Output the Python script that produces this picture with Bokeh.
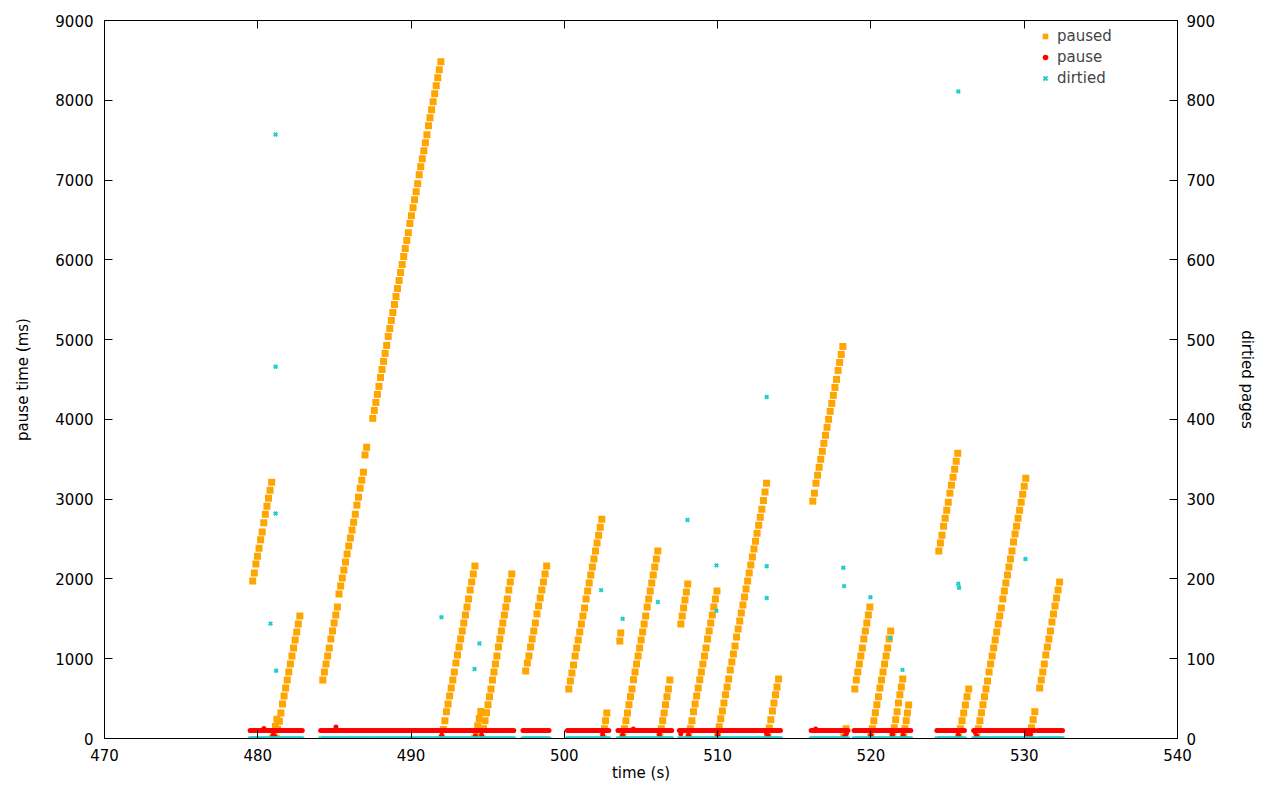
import numpy as np
from bokeh.plotting import figure
from bokeh.models import Range1d, LinearAxis, Legend, LegendItem, FixedTicker
from bokeh.embed import file_html
from bokeh.resources import INLINE

# ---------------- data ----------------
x_ticks = [470, 480, 490, 500, 510, 520, 530, 540]
y_ticks = [0, 1000, 2000, 3000, 4000, 5000, 6000, 7000, 8000, 9000]
y2_ticks = [0, 100, 200, 300, 400, 500, 600, 700, 800, 900]

# "paused": cumulative pause time ramps (ms); start time (s), sample interval (s), values
ramp_t0 = [479.67, 480.95, 481.2, 484.24, 487.50, 492.0, 494.15, 494.63, 497.48, 500.29,
           502.53, 503.62, 503.82, 506.23, 507.60, 508.12, 510.0, 513.27, 516.21, 518.23,
           518.95, 519.99, 521.43, 522.14, 524.43, 525.73, 526.91, 530.36, 531.01]
ramp_dt = [0.103, 0.1, 0.103, 0.106, 0.101, 0.103, 0.1, 0.097, 0.105, 0.1025,
           0.08, 0.06, 0.099, 0.093, 0.09, 0.102, 0.103, 0.101, 0.103, 0.15,
           0.098, 0.1, 0.092, 0.08, 0.103, 0.108, 0.0997, 0.11, 0.1]
ramp_values = [
    [1973, 2073, 2186, 2286, 2386, 2490, 2590, 2703, 2812, 2912, 3012, 3112, 3212],
    [0, 80, 150, 240],
    [0, 113, 217, 321, 434, 534, 634, 734, 834, 934, 1034, 1134, 1234, 1334, 1434, 1535],
    [734, 835, 935, 1035, 1135, 1248, 1348, 1448, 1548, 1648, 1811, 1912, 2012, 2112, 2212,
     2312, 2412, 2512, 2612, 2712, 2812, 2925, 3025, 3138, 3238, 3338, 3554, 3651],
    [4013, 4113, 4213, 4314, 4414, 4526, 4626, 4727, 4827, 4927, 5040, 5140, 5240, 5340, 5440,
     5540, 5641, 5741, 5841, 5941, 6041, 6141, 6241, 6341, 6454, 6554, 6654, 6754, 6854, 6955,
     7067, 7168, 7268, 7368, 7468, 7568, 7681, 7781, 7881, 7981, 8081, 8181, 8281, 8382, 8482],
    [0, 113, 221, 334, 434, 534, 634, 734, 835, 947, 1048, 1148, 1248, 1348, 1448, 1548, 1648,
     1748, 1861, 1961, 2061, 2161],
    [0, 80, 160, 250, 340],
    [0, 121, 221, 322, 422, 522, 622, 734, 835, 935, 1035, 1148, 1248, 1348, 1448, 1548, 1648,
     1748, 1861, 1961, 2061],
    [847, 947, 1035, 1147, 1247, 1348, 1448, 1560, 1660, 1761, 1861, 1961, 2061, 2161],
    [622, 722, 822, 922, 1035, 1135, 1235, 1335, 1435, 1535, 1635, 1748, 1848, 1948, 2048, 2149,
     2249, 2349, 2449, 2549, 2649, 2749],
    [0, 121, 221, 321],
    [1222, 1322],
    [21, 121, 221, 321, 422, 522, 622, 735, 835, 935, 1035, 1135, 1235, 1335, 1435, 1535, 1648,
     1748, 1848, 1948, 2048, 2149, 2249, 2349],
    [21, 121, 221, 321, 422, 522, 622, 734],
    [1435, 1535, 1635, 1736, 1836, 1936],
    [21, 121, 221, 334, 434, 534, 634, 735, 835, 935, 1035, 1135, 1248, 1348, 1448, 1548, 1648,
     1748, 1848],
    [46, 146, 246, 346, 446, 547, 647, 747, 859, 960, 1060, 1160, 1272, 1373, 1473, 1573, 1673,
     1773, 1873, 1973, 2073, 2174, 2274, 2374, 2474, 2574, 2674, 2774, 2874, 2983, 3090, 3200],
    [46, 133, 234, 346, 446, 547, 647, 747],
    [2975, 3075, 3200, 3300, 3400, 3500, 3600, 3700, 3801, 3901, 4001, 4101, 4201, 4301, 4401,
     4501, 4614, 4714, 4814, 4914],
    [21, 121],
    [622, 734, 834, 935, 1035, 1135, 1247, 1348, 1448, 1548, 1648],
    [21, 121, 221, 322, 422, 522, 634, 734, 834, 935, 1035, 1135, 1247, 1348],
    [34, 134, 234, 334, 446, 547, 647, 747],
    [21, 121, 221, 321, 421],
    [2349, 2449, 2549, 2662, 2762, 2862, 2962, 3075, 3175, 3275, 3375, 3475, 3575],
    [21, 121, 221, 321, 421, 522, 622],
    [21, 121, 221, 322, 422, 522, 622, 722, 835, 935, 1035, 1135, 1235, 1335, 1435, 1535, 1635,
     1749, 1849, 1949, 2049, 2149, 2249, 2349, 2462, 2562, 2662, 2762, 2862, 2962, 3062, 3162, 3262],
    [34, 134, 234, 334],
    [634, 734, 834, 935, 1047, 1147, 1247, 1348, 1460, 1561, 1661, 1761, 1861, 1961],
]

# sampling segments where "pause" (ms) and "dirtied" (pages) were recorded
seg_start = [479.5, 484.1, 487.4, 497.3, 500.2, 503.5, 507.5, 516.1, 518.9, 524.3, 526.7, 530.9]
seg_end = [482.9, 487.3, 496.7, 499.0, 502.9, 507.0, 514.1, 518.5, 522.6, 526.1, 530.7, 532.5]
sample_step = 0.1
pause_level = 100
dirtied_level = 0

pause_extra_t = [480.4, 481.0, 481.1, 485.1, 492.0, 494.2, 494.6, 502.5, 503.8, 504.5, 506.2,
                 507.6, 508.1, 510.0, 513.2, 513.3, 516.4, 518.3, 518.4, 520.0, 521.4, 522.1,
                 525.7, 526.8, 526.9, 530.2, 530.4]
pause_extra_v = [125, 40, 30, 145, 40, 30, 40, 50, 40, 120, 50, 60, 40, 40, 60, 30, 120, 30, 60,
                 40, 50, 40, 40, 80, 30, 50, 50]

dirtied_spike_t = [481.16, 481.16, 481.16, 480.83, 481.2, 491.98, 494.14, 494.46, 502.4, 503.8,
                   506.1, 508.03, 509.92, 509.92, 513.2, 513.2, 513.2, 518.2, 518.25, 519.97,
                   521.27, 522.06, 525.7, 525.7, 525.75, 530.08]
dirtied_spike_v = [757, 466, 282, 144, 85, 152, 87, 119, 186, 150, 171, 274, 217, 160, 428, 216,
                   176, 214, 191, 177, 126, 86, 811, 194, 189, 225]

# ---------------- build series ----------------
paused_t, paused_v = [], []
for t0, dt, vals in zip(ramp_t0, ramp_dt, ramp_values):
    for i, v in enumerate(vals):
        paused_t.append(t0 + dt * i)
        paused_v.append(v)

base_t = np.concatenate([np.arange(s, e + 1e-6, sample_step) for s, e in zip(seg_start, seg_end)])
pause_t = list(base_t) + pause_extra_t
pause_v = [pause_level] * len(base_t) + pause_extra_v
dirt_t = list(base_t) + dirtied_spike_t
dirt_v = [dirtied_level] * len(base_t) + dirtied_spike_v

FONT = "DejaVu Sans"

p = figure(width=1264, height=784, x_range=Range1d(470, 540), y_range=Range1d(0, 9000),
           output_backend="svg", toolbar_location=None,
           min_border_left=104, min_border_right=87, min_border_top=20, min_border_bottom=45)
p.extra_y_ranges = {"pages": Range1d(0, 900)}
p.xgrid.visible = False
p.ygrid.visible = False
p.outline_line_color = "black"
p.outline_line_width = 1
p.background_fill_color = "white"

r_paused = p.scatter(paused_t, paused_v, marker="square", size=7, fill_color="#ffa500",
                     line_color="#ffa500", line_width=0)
r_pause = p.scatter(pause_t, pause_v, marker="circle", size=5, fill_color="#ff0000",
                    line_color="#ff0000", line_width=0)
r_dirt = p.scatter(dirt_t, dirt_v, marker="x", size=5, line_color="#1fcccc", line_width=2,
                   y_range_name="pages")


def style_axis(ax, ticks):
    ax.ticker = FixedTicker(ticks=ticks)
    ax.major_tick_in = 8
    ax.major_tick_out = 0
    ax.minor_tick_in = 0
    ax.minor_tick_out = 0
    ax.minor_tick_line_color = None
    ax.axis_line_color = "black"
    ax.major_tick_line_color = "black"
    ax.major_label_text_font = FONT
    ax.major_label_text_font_size = "15px"
    ax.major_label_text_color = "black"
    ax.axis_label_text_font = FONT
    ax.axis_label_text_font_size = "15px"
    ax.axis_label_text_font_style = "normal"
    ax.axis_label_text_color = "black"


xa = p.xaxis[0]
style_axis(xa, x_ticks)
xa.axis_label = "time (s)"
xa.major_label_standoff = 10
xa.axis_label_standoff = 0

ya = p.yaxis[0]
style_axis(ya, y_ticks)
ya.axis_label = "pause time (ms)"
ya.major_label_standoff = 11
ya.axis_label_standoff = 20

y2 = LinearAxis(y_range_name="pages", axis_label="dirtied pages")
style_axis(y2, y2_ticks)
y2.major_label_standoff = 9
y2.axis_label_standoff = 20
p.add_layout(y2, "right")

top = LinearAxis()
style_axis(top, x_ticks)
top.major_label_overrides = {t: "" for t in x_ticks}
top.major_label_text_font_size = "1px"
top.major_label_standoff = 0
p.add_layout(top, "above")

legend = Legend(items=[LegendItem(label="paused", renderers=[r_paused]),
                       LegendItem(label="pause", renderers=[r_pause]),
                       LegendItem(label="dirtied", renderers=[r_dirt])],
                location=(934, 650))
legend.background_fill_alpha = 0
legend.border_line_color = None
legend.label_text_font = FONT
legend.label_text_font_size = "15px"
legend.glyph_width = 14
legend.label_height = 18
legend.spacing = 1
legend.padding = 4
p.add_layout(legend, "center")

open("out.html", "w").write(file_html(p, INLINE))
